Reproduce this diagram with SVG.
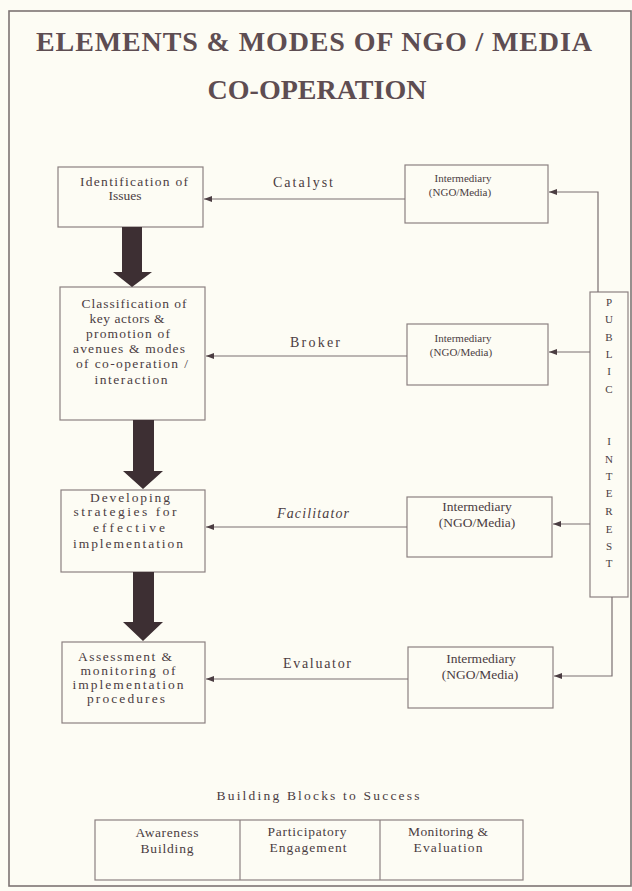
<svg xmlns="http://www.w3.org/2000/svg" width="632" height="891" viewBox="0 0 632 891">
<style>
.title{font-family:"Liberation Serif","Times New Roman",serif;font-weight:bold;font-size:28px;fill:#5e4d52;text-anchor:middle}
.t{font-family:"Liberation Serif","Times New Roman",serif;font-size:13.5px;fill:#4b3d42;text-anchor:middle}
.s{font-family:"Liberation Serif","Times New Roman",serif;font-size:11px;fill:#4b3d42;text-anchor:middle}
.m{font-family:"Liberation Serif","Times New Roman",serif;font-size:13.5px;fill:#4b3d42;text-anchor:middle}
.lbl{font-family:"Liberation Serif","Times New Roman",serif;font-size:14px;fill:#4b3d42;text-anchor:middle}
.pi{font-family:"Liberation Serif","Times New Roman",serif;font-size:11px;fill:#4b3d42;text-anchor:middle}
.box{fill:none;stroke:#8c8080;stroke-width:1.2}
.conn{fill:none;stroke:#7a6e70;stroke-width:1.2}
.thick{fill:#3d2f33}
</style>
<defs>
<marker id="ah" viewBox="0 0 8 6" refX="8" refY="3" markerWidth="8" markerHeight="6" markerUnits="userSpaceOnUse" orient="auto">
<path d="M0,0 L8,3 L0,6 z" fill="#4b3d42"/>
</marker>
</defs>
<rect x="0" y="0" width="632" height="891" fill="#fdfcf4"/>
<rect x="9" y="11" width="622" height="875" fill="none" stroke="#7d7373" stroke-width="1.6"/>

<g id="title">
<text class="title" x="314" y="51" textLength="556" lengthAdjust="spacing">ELEMENTS &amp; MODES OF NGO / MEDIA</text>
<text class="title" x="317" y="99">CO-OPERATION</text>
</g>

<g id="n1">
<rect class="box" x="58" y="167" width="145" height="60"/>
<text class="t" x="134" y="186" textLength="108" lengthAdjust="spacing">Identification of</text>
<text class="t" x="125" y="200">Issues</text>
</g>
<g id="n2">
<rect class="box" x="60" y="287" width="145" height="133"/>
<text class="t" x="134" y="308" textLength="105" lengthAdjust="spacing">Classification of</text>
<text class="t" x="127" y="323" textLength="75" lengthAdjust="spacing">key actors &amp;</text>
<text class="t" x="128" y="338" textLength="84" lengthAdjust="spacing">promotion of</text>
<text class="t" x="129" y="353" textLength="112" lengthAdjust="spacing">avenues &amp; modes</text>
<text class="t" x="132" y="368" textLength="112" lengthAdjust="spacing">of co-operation /</text>
<text class="t" x="131" y="384" textLength="73" lengthAdjust="spacing">interaction</text>
</g>
<g id="n3">
<rect class="box" x="61" y="490" width="144" height="82"/>
<text class="t" x="130" y="502" textLength="80" lengthAdjust="spacing">Developing</text>
<text class="t" x="125" y="516" textLength="103" lengthAdjust="spacing">strategies for</text>
<text class="t" x="129" y="532" textLength="72" lengthAdjust="spacing">effective</text>
<text class="t" x="128" y="548" textLength="110" lengthAdjust="spacing">implementation</text>
</g>
<g id="n4">
<rect class="box" x="62" y="642" width="143" height="81"/>
<text class="t" x="125" y="661" textLength="94" lengthAdjust="spacing">Assessment &amp;</text>
<text class="t" x="128" y="675" textLength="95" lengthAdjust="spacing">monitoring of</text>
<text class="t" x="128" y="689" textLength="111" lengthAdjust="spacing">implementation</text>
<text class="t" x="126" y="703" textLength="78" lengthAdjust="spacing">procedures</text>
</g>

<g id="i1">
<rect class="box" x="405" y="165" width="143" height="58"/>
<text class="s" x="463" y="182">Intermediary</text>
<text class="s" x="460" y="196">(NGO/Media)</text>
</g>
<g id="i2">
<rect class="box" x="407" y="324" width="141" height="61"/>
<text class="s" x="463" y="342">Intermediary</text>
<text class="s" x="461" y="356">(NGO/Media)</text>
</g>
<g id="i3">
<rect class="box" x="407" y="497" width="145" height="60"/>
<text class="m" x="477" y="511">Intermediary</text>
<text class="m" x="477" y="527">(NGO/Media)</text>
</g>
<g id="i4">
<rect class="box" x="408" y="647" width="145" height="61"/>
<text class="m" x="481" y="663">Intermediary</text>
<text class="m" x="480" y="679">(NGO/Media)</text>
</g>

<g id="public">
<rect class="box" x="590" y="292" width="38" height="305"/>
<text class="pi" x="609" y="306">P</text>
<text class="pi" x="609" y="323">U</text>
<text class="pi" x="609" y="341">B</text>
<text class="pi" x="609" y="358">L</text>
<text class="pi" x="609" y="375">I</text>
<text class="pi" x="609" y="393">C</text>
<text class="pi" x="609" y="445">I</text>
<text class="pi" x="609" y="463">N</text>
<text class="pi" x="609" y="480">T</text>
<text class="pi" x="609" y="497">E</text>
<text class="pi" x="609" y="515">R</text>
<text class="pi" x="609" y="533">E</text>
<text class="pi" x="609" y="550">S</text>
<text class="pi" x="609" y="567">T</text>
</g>

<g id="connectors">
<polygon class="thick" points="122,227 142,227 142,272 152,272 132,287 113,272 122,272"/>
<polygon class="thick" points="133,420 154,420 154,471 163,471 143,489 123,471 133,471"/>
<polygon class="thick" points="133,572 154,572 154,622 163,622 143,641 123,622 133,622"/>
<line class="conn" x1="405" y1="199" x2="204" y2="199" marker-end="url(#ah)"/>
<line class="conn" x1="407" y1="356" x2="206" y2="356" marker-end="url(#ah)"/>
<line class="conn" x1="407" y1="527" x2="206" y2="527" marker-end="url(#ah)"/>
<line class="conn" x1="408" y1="679" x2="206" y2="679" marker-end="url(#ah)"/>
<polyline class="conn" points="598,292 598,192 549,192" marker-end="url(#ah)"/>
<line class="conn" x1="590" y1="352" x2="549" y2="352" marker-end="url(#ah)"/>
<line class="conn" x1="590" y1="524" x2="553" y2="524" marker-end="url(#ah)"/>
<polyline class="conn" points="612,597 612,676 554,676" marker-end="url(#ah)"/>
<text class="lbl" x="303" y="187" textLength="60" lengthAdjust="spacing">Catalyst</text>
<text class="lbl" x="315" y="347" textLength="50" lengthAdjust="spacing">Broker</text>
<text class="lbl" x="313" y="518" font-style="italic" textLength="72" lengthAdjust="spacing">Facilitator</text>
<text class="lbl" x="317" y="668" textLength="68" lengthAdjust="spacing">Evaluator</text>
</g>

<g id="blocks">
<text class="m" x="318" y="800" font-size="14" textLength="203" lengthAdjust="spacing">Building Blocks to Success</text>
<rect class="box" x="95" y="820" width="428" height="60"/>
<line class="box" x1="240" y1="820" x2="240" y2="880"/>
<line class="box" x1="380" y1="820" x2="380" y2="880"/>
<text class="t" x="167" y="837" textLength="63" lengthAdjust="spacing">Awareness</text>
<text class="t" x="167" y="853" textLength="53" lengthAdjust="spacing">Building</text>
<text class="t" x="307" y="836" textLength="79" lengthAdjust="spacing">Participatory</text>
<text class="t" x="308" y="852" textLength="77" lengthAdjust="spacing">Engagement</text>
<text class="t" x="448" y="836" textLength="80" lengthAdjust="spacing">Monitoring &amp;</text>
<text class="t" x="448" y="852" textLength="69" lengthAdjust="spacing">Evaluation</text>
</g>
</svg>
